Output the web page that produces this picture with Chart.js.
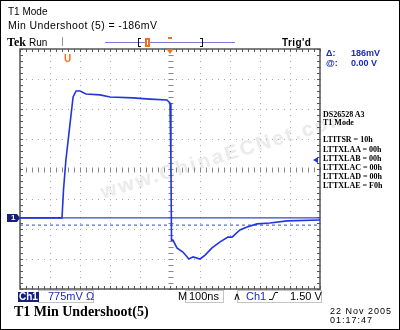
<!DOCTYPE html>
<html>
<head>
<meta charset="utf-8">
<script src="https://cdn.jsdelivr.net/npm/chart.js@4.4.1/dist/chart.umd.min.js"></script>
<style>
  html, body { margin: 0; padding: 0; background: #fff; }
  #wrap { position: relative; width: 400px; height: 330px; overflow: hidden; box-sizing: border-box; border: 1px solid #000; }
  #scope { position: absolute; left: -1px; top: -1px; z-index: 1; }
  .t { position: absolute; white-space: nowrap; line-height: 1; z-index: 2; }
  .sans { font-family: "Liberation Sans", Arial, sans-serif; }
  .serif { font-family: "Liberation Serif", "Times New Roman", serif; }
  .blue { color: #1c2cb4; }
  .box { position: absolute; border: 1px solid #c4c4c4; z-index: 0; }
  #wm { position: absolute; left: 100px; top: 180px; z-index: 0; font: bold 20px "Liberation Sans", Arial, sans-serif;
        letter-spacing: 2.5px; color: #ebebeb; transform: rotate(-17deg); transform-origin: 0 50%; white-space: nowrap; }
</style>
</head>
<body>
<div id="wrap">
  <div id="wm">www.ChinaECNet.com</div>
  <canvas id="scope" width="400" height="330"></canvas>

  <div class="t sans" style="left:7px;top:5.5px;font-size:10px;">T1 Mode</div>
  <div class="t sans" style="left:7px;top:18.6px;font-size:10.5px;letter-spacing:0.4px;">Min Undershoot (5) = -186mV</div>
  <div class="t serif" style="left:6px;top:35px;font-size:12px;font-weight:bold;">Tek</div>
  <div class="t sans" style="left:28px;top:36.5px;font-size:10px;">Run</div>
  <div class="t sans" style="left:281px;top:36.5px;font-size:10px;font-weight:bold;letter-spacing:0.4px;">Trig'd</div>
  <div class="t sans" style="left:63px;top:52.5px;font-size:10px;font-weight:bold;color:#f07020;">U</div>

  <div class="t sans blue" style="left:325px;top:48px;font-size:9px;font-weight:bold;">&Delta;:</div>
  <div class="t sans blue" style="left:350px;top:48px;font-size:9px;font-weight:bold;">186mV</div>
  <div class="t sans blue" style="left:325px;top:58px;font-size:9px;font-weight:bold;">@:</div>
  <div class="t sans blue" style="left:350px;top:58px;font-size:9px;font-weight:bold;">0.00 V</div>

  <div class="t serif" style="left:322px;top:110.3px;font-size:8px;font-weight:bold;">DS26528 A3</div>
  <div class="t serif" style="left:322px;top:118.3px;font-size:8px;font-weight:bold;">T1 Mode</div>
  <div class="t serif" style="left:322px;top:135.3px;font-size:8px;font-weight:bold;">LTITSR = 10h</div>
  <div class="t serif" style="left:322px;top:145.3px;font-size:8px;font-weight:bold;">LTTXLAA = 00h</div>
  <div class="t serif" style="left:322px;top:154.3px;font-size:8px;font-weight:bold;">LTTXLAB = 00h</div>
  <div class="t serif" style="left:322px;top:163.3px;font-size:8px;font-weight:bold;">LTTXLAC = 00h</div>
  <div class="t serif" style="left:322px;top:172.3px;font-size:8px;font-weight:bold;">LTTXLAD = 00h</div>
  <div class="t serif" style="left:322px;top:181.3px;font-size:8px;font-weight:bold;">LTTXLAE = F0h</div>

  <div class="t sans" style="left:10px;top:213px;font-size:8px;font-weight:bold;color:#fff;">1</div>

  <div class="box" style="left:37px;top:289px;width:54px;height:11px;"></div>
  <div class="box" style="left:184px;top:289px;width:37px;height:11px;"></div>
  <div class="box" style="left:236px;top:289px;width:83px;height:11px;"></div>
  <div class="t sans" style="left:17px;top:290.5px;font-size:10px;font-weight:bold;color:#fff;background:#14207a;padding:0 1px;">Ch1</div>
  <div class="t sans blue" style="left:47px;top:290px;font-size:11px;">775mV &Omega;</div>
  <div class="t sans" style="left:177px;top:290px;font-size:11px;">M</div>
  <div class="t sans" style="left:188px;top:290px;font-size:11px;">100ns</div>
  <div class="t sans" style="left:232px;top:290px;font-size:11px;">&and;</div>
  <div class="t sans blue" style="left:245px;top:290px;font-size:11px;">Ch1</div>
  <div class="t sans" style="left:289px;top:290px;font-size:11px;">1.50 V</div>

  <div class="t serif" style="left:13px;top:303.5px;font-size:14px;font-weight:bold;">T1 Min Undershoot(5)</div>
  <div class="t sans" style="left:329px;top:305.5px;font-size:9px;letter-spacing:1px;">22 Nov 2005</div>
  <div class="t sans" style="left:329px;top:314.5px;font-size:9px;letter-spacing:1px;">01:17:47</div>
</div>

<script>
// time axis in ns (M 100ns/div, trigger at centre), amplitude in divisions from screen centre
const TIME_NS = [-500, -360, -355, -347, -333, -323, -313, -300, -280, -233, -200, -123, -67, -10, 0, 3, 5,
                 10, 23, 43, 63, 77, 100, 117, 140, 167, 193, 207, 233, 257, 290, 333, 390, 500];
const CH1_DIV = [-1.63, -1.63, -0.70, 0.30, 1.53, 2.40, 2.60, 2.60, 2.50, 2.47, 2.40, 2.37, 2.33, 2.30, 2.20, 0.30, -2.37,
                 -2.37, -2.63, -2.77, -3.00, -2.93, -3.00, -2.87, -2.63, -2.43, -2.27, -2.27, -2.03, -1.93, -1.83, -1.80, -1.73, -1.70];
const CURSOR_LEVELS = [-1.63, -1.87]; // solid ground cursor, dashed min cursor
const X_DIVS = [-500, -400, -300, -200, -100, 0, 100, 200, 300, 400, 500];
const Y_DIVS = [-4, -3, -2, -1, 0, 1, 2, 3, 4];

const TRACE = '#2236dc';
const CURSOR = '#3646c8';
const ORANGE = '#f07020';
const GRAT = '#555555';

const scopePlugin = {
  id: 'scope',
  beforeDatasetsDraw(chart) {
    const { ctx, chartArea: a, scales: { x, y } } = chart;
    ctx.save();
    // dotted graticule
    ctx.fillStyle = '#a8a8a8';
    X_DIVS.forEach(v => {
      const px = Math.round(x.getPixelForValue(v));
      for (let py = a.top; py <= a.bottom; py += 6) ctx.fillRect(px, py, 1, 1);
    });
    Y_DIVS.forEach(v => {
      const py = Math.round(y.getPixelForValue(v));
      for (let px = a.left; px <= a.right; px += 6) ctx.fillRect(px, py, 1, 1);
    });
    // centre lines with minor ticks
    const cx = Math.round(x.getPixelForValue(0)) + 0.5;
    const cy = Math.round(y.getPixelForValue(0)) + 0.5;
    ctx.strokeStyle = '#888';
    ctx.lineWidth = 1;
    ctx.beginPath();
    for (let px = a.left; px <= a.right; px += 6) { ctx.moveTo(Math.round(px) + 0.5, cy - 2); ctx.lineTo(Math.round(px) + 0.5, cy + 3); }
    for (let py = a.top; py <= a.bottom; py += 6) { ctx.moveTo(cx - 2, Math.round(py) + 0.5); ctx.lineTo(cx + 3, Math.round(py) + 0.5); }
    ctx.stroke();
    // border with ruler ticks
    ctx.strokeStyle = GRAT;
    ctx.beginPath();
    for (let px = a.left; px <= a.right; px += 6) {
      const r = Math.round(px) + 0.5;
      ctx.moveTo(r, a.top); ctx.lineTo(r, a.top + 3);
      ctx.moveTo(r, a.bottom); ctx.lineTo(r, a.bottom - 3);
    }
    for (let py = a.top; py <= a.bottom; py += 6) {
      const r = Math.round(py) + 0.5;
      ctx.moveTo(a.left, r); ctx.lineTo(a.left + 3, r);
      ctx.moveTo(a.right, r); ctx.lineTo(a.right - 3, r);
    }
    ctx.stroke();
    ctx.lineWidth = 1.5;
    ctx.strokeRect(a.left, a.top, a.right - a.left, a.bottom - a.top);
    ctx.restore();
  },
  afterDraw(chart) {
    const { ctx, chartArea: a, scales: { x, y } } = chart;
    const cx = x.getPixelForValue(0);
    ctx.save();
    // record-length bar at the top
    ctx.fillStyle = '#999';
    ctx.fillRect(62, 37, 1, 9);
    ctx.fillStyle = '#7a7ad8';
    ctx.fillRect(105, 42, 130, 1);
    ctx.fillStyle = '#111';
    ctx.fillRect(138, 38, 1, 9); ctx.fillRect(138, 38, 3, 1); ctx.fillRect(138, 46, 3, 1);
    ctx.fillRect(202, 38, 1, 9); ctx.fillRect(200, 38, 3, 1); ctx.fillRect(200, 46, 3, 1);
    ctx.fillStyle = ORANGE;
    ctx.fillRect(145, 38, 5, 9);
    ctx.fillStyle = '#fff';
    ctx.fillRect(147, 40, 1, 5);
    ctx.fillStyle = ORANGE;
    ctx.fillRect(cx - 2, 37, 4, 2);
    // trigger position marker
    ctx.beginPath();
    ctx.moveTo(cx - 3.5, a.top); ctx.lineTo(cx + 3.5, a.top); ctx.lineTo(cx, a.top + 5); ctx.closePath();
    ctx.fill();
    // ground marker "1"
    const gy = y.getPixelForValue(CURSOR_LEVELS[0]);
    ctx.fillStyle = '#14207a';
    ctx.beginPath();
    ctx.moveTo(7, gy - 4); ctx.lineTo(17, gy - 4); ctx.lineTo(20, gy); ctx.lineTo(17, gy + 4); ctx.lineTo(7, gy + 4); ctx.closePath();
    ctx.fill();
    // trigger level arrow on right edge
    ctx.fillStyle = '#2236dc';
    ctx.beginPath();
    ctx.moveTo(313, 160); ctx.lineTo(318, 157); ctx.lineTo(318, 163); ctx.closePath();
    ctx.fill();
    // rising-edge symbol
    ctx.strokeStyle = '#111';
    ctx.lineWidth = 1;
    ctx.beginPath();
    ctx.moveTo(269, 299.5); ctx.lineTo(272.5, 299.5); ctx.lineTo(275, 292.5); ctx.lineTo(278, 292.5);
    ctx.stroke();
    ctx.restore();
  }
};

new Chart(document.getElementById('scope'), {
  type: 'line',
  data: {
    datasets: [
      {
        data: TIME_NS.map((t, i) => ({ x: t, y: CH1_DIV[i] })),
        borderColor: TRACE, borderWidth: 1.6, pointRadius: 0, tension: 0
      },
      {
        data: [{ x: -500, y: CURSOR_LEVELS[0] }, { x: 500, y: CURSOR_LEVELS[0] }],
        borderColor: CURSOR, borderWidth: 1.2, pointRadius: 0
      },
      {
        data: [{ x: -500, y: CURSOR_LEVELS[1] }, { x: 500, y: CURSOR_LEVELS[1] }],
        borderColor: CURSOR, borderWidth: 1, borderDash: [3, 3], pointRadius: 0
      }
    ]
  },
  options: {
    responsive: false,
    animation: false,
    devicePixelRatio: 1,
    layout: { padding: { left: 20, right: 80, top: 49, bottom: 41 } },
    scales: {
      x: { type: 'linear', min: -500, max: 500, display: false },
      y: { min: -4, max: 4, display: false }
    },
    plugins: { legend: { display: false }, tooltip: { enabled: false } }
  },
  plugins: [scopePlugin]
});
</script>
</body>
</html>
